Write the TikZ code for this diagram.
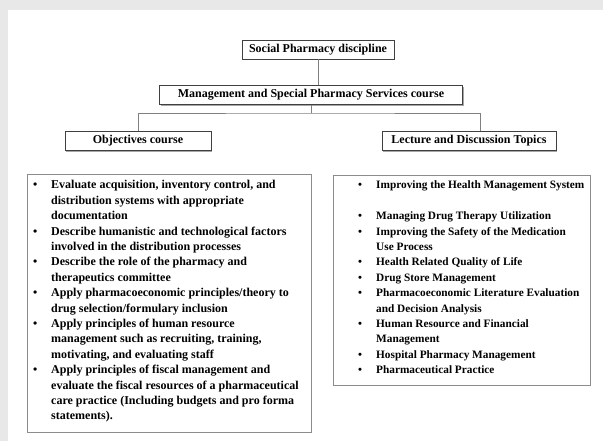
\documentclass[tikz,border=0pt]{standalone}
\usepackage{fontspec}
\setmainfont{Liberation Serif}
\usetikzlibrary{shadows}

\newcommand{\blt}{\textbullet}

\tikzset{
  head/.style={draw=black!75,line width=0.8bp,fill=white,inner sep=0pt,
    minimum height=19bp,font=\bfseries\fontsize{12bp}{14bp}\selectfont,
    drop shadow={shadow xshift=1.2bp,shadow yshift=-1.2bp,fill=black!35,opacity=1}},
  listbox/.style={draw=black!45,line width=0.8bp,fill=white,
    drop shadow={shadow xshift=1bp,shadow yshift=-1bp,fill=black!25,opacity=1}},
  listtext/.style={anchor=north west,inner sep=0pt,align=left,
    font=\bfseries\fontsize{#1}{15.4bp}\selectfont},
  listtext/.default=12bp,
  link/.style={draw=black!50,line width=0.9bp}
}

\begin{document}
\begin{tikzpicture}[x=1bp,y=-1bp]
  \useasboundingbox (0,0) rectangle (603,441);
  % page frame
  \fill[black!9] (0,0) rectangle (603,441);
  \fill[white] (8,10) rectangle (603,441);

  % tree
  \node[head,minimum width=152bp] (social) at (318,49.5) {Social Pharmacy discipline};
  \node[head,minimum width=303bp] (mgmt) at (311,95) {Management and Special Pharmacy Services course};
  \node[head,minimum width=146bp] (obj) at (138,141) {Objectives course};
  \node[head,minimum width=174bp] (lec) at (469,141) {Lecture and Discussion Topics};
  \coordinate (split) at (311,113);
  \coordinate (lecdrop) at ([xshift=11bp]lec.north);
  \draw[link] (social.south) -- (social.south |- mgmt.north);
  \draw[link] (mgmt.south) -- (split);
  \draw[link] (obj.north) |- (split) -| (lecdrop);

  % the two lists
  \node[listbox,minimum width=284bp,minimum height=258bp] (objlist) at (169,303) {};
  \node[listbox,minimum width=257bp,minimum height=210bp] (leclist) at (461.5,280) {};
  \node[listtext] (objitems) at (33,178) {%
    \begin{tabular}{@{}p{18bp}@{}l@{}}
    \blt & Evaluate acquisition, inventory control, and\\
         & distribution systems with appropriate\\
         & documentation\\
    \blt & Describe humanistic and technological factors\\
         & involved in the distribution processes\\
    \blt & Describe the role of the pharmacy and\\
         & therapeutics committee\\
    \blt & Apply pharmacoeconomic principles/theory to\\
         & drug selection/formulary inclusion\\
    \blt & Apply principles of human resource\\
         & management such as recruiting, training,\\
         & motivating, and evaluating staff\\
    \blt & Apply principles of fiscal management and\\
         & evaluate the fiscal resources of a pharmaceutical\\
         & care practice (Including budgets and pro forma\\
         & statements).
    \end{tabular}};
  \node[listtext=11.3bp] (lecitems) at (358,178) {%
    \begin{tabular}{@{}p{18bp}@{}l@{}}
    \blt & Improving the Health Management System\\
         & \\
    \blt & Managing Drug Therapy Utilization\\
    \blt & Improving the Safety of the Medication\\
         & Use Process\\
    \blt & Health Related Quality of Life\\
    \blt & Drug Store Management\\
    \blt & Pharmacoeconomic Literature Evaluation\\
         & and Decision Analysis\\
    \blt & Human Resource and Financial\\
         & Management\\
    \blt & Hospital Pharmacy Management\\
    \blt & Pharmaceutical Practice
    \end{tabular}};
\end{tikzpicture}
\end{document}
